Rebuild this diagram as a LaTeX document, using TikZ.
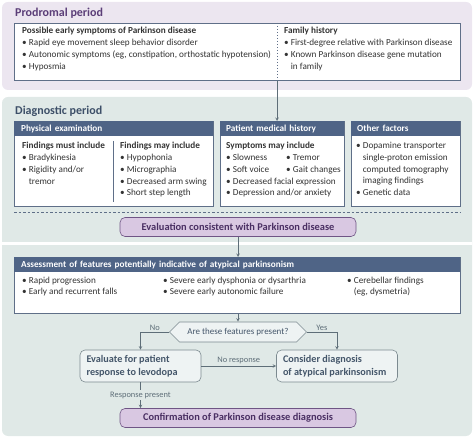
\documentclass[tikz,border=0pt]{standalone}
\usepackage{fontspec}
\setmainfont{Carlito}
\usetikzlibrary{arrows}
\usetikzlibrary{shapes.symbols}

\definecolor{prodbg}{HTML}{ECE6F0}
\definecolor{diagbg}{HTML}{E0E9E7}
\definecolor{prodtitle}{HTML}{5B3E78}
\definecolor{diagtitle}{HTML}{3D4F68}
\definecolor{headbg}{HTML}{4F6486}
\definecolor{boxline}{HTML}{5F6F88}
\definecolor{evalbg}{HTML}{D9C8E2}
\definecolor{evalline}{HTML}{6F5585}
\definecolor{evaltext}{HTML}{4A2F63}
\definecolor{stepbg}{HTML}{EEF3F3}
\definecolor{stepline}{HTML}{7C8A90}
\definecolor{steptext}{HTML}{44566A}
\definecolor{bodytext}{HTML}{333333}
\definecolor{linktext}{HTML}{5E6E78}

\newcommand{\itm}[1]{\textbullet\ #1}
\newcommand{\cnt}[1]{\hphantom{\textbullet\ }#1}

\tikzset{
  panel/.style={rounded corners=6pt},
  framebox/.style={draw=boxline, fill=white, line width=0.6pt, inner sep=0pt, anchor=north west},
  headbar/.style={fill=headbg, text=white, inner sep=0pt, anchor=north west, minimum height=15pt,
    font=\fontsize{9.2}{11}\selectfont\bfseries},
  % first baseline sits 8pt below the anchor
  textcol/.style={anchor=north west, inner sep=0pt, align=left, text=bodytext,
    font=\fontsize{9.2}{11.8}\selectfont, execute at begin node={\rule{0pt}{8pt}}},
  rowcol/.style={textcol, font=\fontsize{9.2}{11}\selectfont},
  evalbox/.style={draw=evalline, fill=evalbg, rounded corners=5pt, line width=0.6pt, text=evaltext,
    minimum width=236pt, minimum height=19pt, inner sep=0pt, font=\fontsize{10.4}{12}\selectfont\bfseries},
  stepbox/.style={draw=stepline, fill=stepbg, rounded corners=5pt, line width=0.6pt, text=steptext,
    minimum width=121pt, minimum height=32pt, inner xsep=6.5pt, text width=108pt, align=flush left,
    font=\fontsize{10.2}{13}\selectfont\bfseries},
  askbox/.style={signal, signal to=west and east, signal pointer angle=90, draw=stepline, fill=stepbg,
    line width=0.6pt, text=steptext, minimum width=137pt, minimum height=20pt, inner sep=0pt,
    font=\fontsize{9}{11}\selectfont},
  link/.style={draw=linktext, line width=0.6pt, ->, >=stealth},
  linklabel/.style={text=linktext, font=\fontsize{8.4}{10}\selectfont, inner sep=1.5pt}
}

\begin{document}
\begin{tikzpicture}[x=1pt,y=-1pt]
  \useasboundingbox (0,0) rectangle (474,438);

  % panels
  \fill[panel, prodbg] (2,2) rectangle (472,90);
  \fill[panel, diagbg] (2,97) rectangle (472,436);
  \fill[white] (2,242) rectangle (472,245);

  \node[anchor=base west, inner sep=0pt, text=prodtitle, font=\fontsize{12}{14}\selectfont\bfseries]
    (prodtitle) at (15,17) {Prodromal period};
  \node[anchor=base west, inner sep=0pt, text=diagtitle, font=\fontsize{12}{14}\selectfont\bfseries]
    (diagtitle) at (15,114.5) {Diagnostic period};

  % prodromal period
  \node[framebox, minimum width=446pt, minimum height=57pt] (prod) at (14,23) {};
  \coordinate (split) at (277,23);
  \draw[boxline, dash pattern=on 1.5pt off 1.5pt, line width=0.5pt] (split) -- (split |- prod.south);
  \node[textcol] (early) at (22,27) {\textbf{Possible early symptoms of Parkinson disease}\\
    \itm{Rapid eye movement sleep behavior disorder}\\
    \itm{Autonomic symptoms (eg, constipation, orthostatic hypotension)}\\
    \itm{Hyposmia}};
  \node[textcol] (family) at (284,27) {\textbf{Family history}\\
    \itm{First-degree relative with Parkinson disease}\\
    \itm{Known Parkinson disease gene mutation}\\
    \cnt{in family}};

  % diagnostic period
  \node[framebox, minimum width=199pt, minimum height=85pt] (phys) at (14,121) {};
  \node[headbar, minimum width=199pt, text width=185pt, inner xsep=7pt] (physhead) at (14,121) {Physical examination};
  \draw[boxline, line width=0.6pt] (113,141) -- (113,202);
  \node[textcol] (must) at (22,142) {\textbf{Findings must include}\\
    \itm{Bradykinesia}\\
    \itm{Rigidity and/or}\\
    \cnt{tremor}};
  \node[textcol] (may) at (120,142) {\textbf{Findings may include}\\
    \itm{Hypophonia}\\
    \itm{Micrographia}\\
    \itm{Decreased arm swing}\\
    \itm{Short step length}};

  \node[framebox, minimum width=124pt, minimum height=85pt] (hist) at (220,121) {};
  \node[headbar, minimum width=124pt, text width=112pt, inner xsep=6pt] (histhead) at (220,121) {Patient medical history};
  \node[textcol] (sympt) at (226,142) {\textbf{Symptoms may include}\\
    \makebox[60pt][l]{\itm{Slowness}}\itm{Tremor}\\
    \makebox[60pt][l]{\itm{Soft voice}}\itm{Gait changes}\\
    \itm{Decreased facial expression}\\
    \itm{Depression and/or anxiety}};

  \node[framebox, minimum width=109pt, minimum height=85pt] (other) at (351,121) {};
  \node[headbar, minimum width=109pt, text width=97pt, inner xsep=6pt] (otherhead) at (351,121) {Other factors};
  \node[textcol] (factors) at (356,142) {\itm{Dopamine transporter}\\
    \cnt{single-proton emission}\\
    \cnt{computed tomography}\\
    \cnt{imaging findings}\\
    \itm{Genetic data}};

  \draw[boxline, dash pattern=on 2.5pt off 2pt, line width=0.6pt] (14,212) -- (460,212);

  \node[evalbox] (eval) at (238,227) {Evaluation consistent with Parkinson disease};

  % atypical features
  \node[framebox, minimum width=446pt, minimum height=56pt] (assess) at (14,257) {};
  \node[headbar, minimum width=446pt, text width=432pt, inner xsep=7pt] (assesshead) at (14,257)
    {Assessment of features potentially indicative of atypical parkinsonism};
  \node[rowcol] (featA) at (22,277) {\itm{Rapid progression}\\ \itm{Early and recurrent falls}};
  \node[rowcol] (featB) at (163,277) {\itm{Severe early dysphonia or dysarthria}\\ \itm{Severe early autonomic failure}};
  \node[rowcol] (featC) at (347,277) {\itm{Cerebellar findings}\\ \cnt{(eg, dysmetria)}};

  \node[askbox] (ask) at (238,332) {Are these features present?};
  \node[stepbox] (levo) at (140.5,366) {Evaluate for patient\\response to levodopa};
  \node[stepbox] (atyp) at (337,366) {Consider diagnosis\\of atypical parkinsonism};
  \node[evalbox] (confirm) at (238,418) {Confirmation of Parkinson disease diagnosis};

  % connectors
  \draw[link] (split |- prod.south) -- (split |- hist.north);
  \draw[link] (eval.south) -- (eval.south |- assess.north);
  \draw[link] (ask.north |- assess.south) -- (ask.north);
  \draw[link] (ask.west) -| node[linklabel, pos=0.25, above] {No} (levo.north);
  \draw[link] (ask.east) -| node[linklabel, pos=0.25, above] {Yes} (atyp.north);
  \draw[link] (levo.east) -- node[linklabel, above] {No response} (atyp.west);
  \draw[link] (levo.south) -- node[linklabel, fill=diagbg] {Response present} (levo.south |- confirm.north);

\end{tikzpicture}
\end{document}
